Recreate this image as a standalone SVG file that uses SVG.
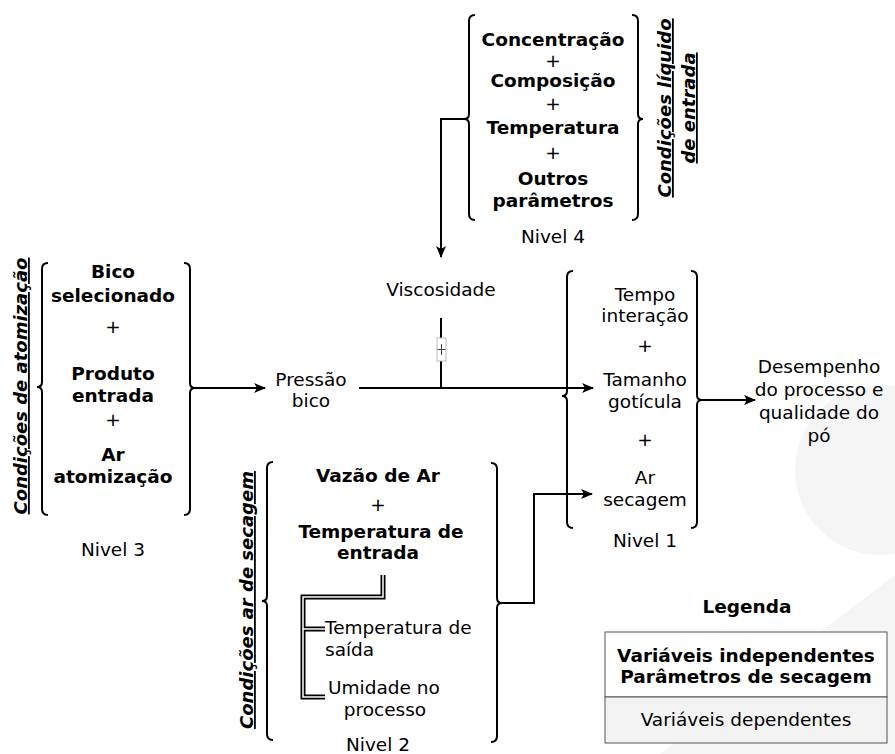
<svg xmlns="http://www.w3.org/2000/svg" width="895" height="754" viewBox="0 0 895 754">
<style>
text{font-family:"DejaVu Sans",Verdana,sans-serif;font-size:18.5px;fill:#000;text-anchor:middle}
.b{font-weight:bold}
.rl{font-weight:bold;font-style:italic;text-decoration:underline;font-size:18px}
.br{fill:none;stroke:#000;stroke-width:2}
.ln{fill:none;stroke:#000;stroke-width:2}
.s{text-anchor:start}
</style>
<defs>
<marker id="ah" markerWidth="12" markerHeight="10" refX="11" refY="5" orient="auto" markerUnits="userSpaceOnUse">
<path d="M0,0 L12,5 L0,10 L3,5 Z" fill="#000"/>
</marker>
</defs>
<rect width="895" height="754" fill="#fff"/>
<g id="watermark" fill="#f5f5f5">
<circle cx="880" cy="470" r="85"/>
<path d="M660,754 L895,575 L895,754 Z"/>
</g>
<g id="nivel4">
<path class="br" d="M475,15 Q469,15 469,21 V114 Q469,119 464,119 Q469,119 469,124 V214 Q469,220 475,220"/>
<path class="br" d="M632,15 Q638,15 638,21 V114 Q638,119 643,119 Q638,119 638,124 V214 Q638,220 632,220"/>
<text class="b" x="553" y="46">Concentração</text>
<text x="553" y="67">+</text>
<text class="b" x="553" y="87">Composição</text>
<text x="553" y="110">+</text>
<text class="b" x="553" y="134">Temperatura</text>
<text x="553" y="159">+</text>
<text class="b" x="553" y="185">Outros</text>
<text class="b" x="553" y="207">parâmetros</text>
<text x="553" y="243">Nivel 4</text>
<text class="rl" transform="translate(671,108) rotate(-90)">Condições líquido</text>
<text class="rl" transform="translate(695,108) rotate(-90)">de entrada</text>
</g>
<g id="nivel3">
<path class="br" d="M48,263 Q42,263 42,269 V382 Q42,387 37,387 Q42,387 42,392 V509 Q42,515 48,515"/>
<path class="br" d="M184,263 Q190,263 190,269 V383 Q190,388 195,388 Q190,388 190,393 V509 Q190,515 184,515"/>
<text class="b" x="113" y="278">Bico</text>
<text class="b" x="113" y="302">selecionado</text>
<text x="113" y="333">+</text>
<text class="b" x="113" y="380">Produto</text>
<text class="b" x="113" y="402">entrada</text>
<text x="113" y="426">+</text>
<text class="b" x="113" y="461">Ar</text>
<text class="b" x="113" y="483">atomização</text>
<text x="113" y="556">Nivel 3</text>
<text class="rl" transform="translate(27,386) rotate(-90)">Condições de atomização</text>
</g>
<g id="viscosidade">
<text x="441" y="296">Viscosidade</text>
</g>
<g id="pressao">
<text x="311" y="386">Pressão</text>
<text x="311" y="407">bico</text>
</g>
<g id="nivel1">
<path class="br" d="M573,271 Q567,271 567,277 V391 Q567,396 562,396 Q567,396 567,401 V522 Q567,528 573,528"/>
<path class="br" d="M691,271 Q697,271 697,277 V395 Q697,400 702,400 Q697,400 697,405 V522 Q697,528 691,528"/>
<text x="645" y="301">Tempo</text>
<text x="645" y="322">interação</text>
<text x="645" y="352">+</text>
<text x="645" y="386">Tamanho</text>
<text x="645" y="408">gotícula</text>
<text x="645" y="446">+</text>
<text x="645" y="484">Ar</text>
<text x="645" y="506">secagem</text>
<text x="645" y="547">Nivel 1</text>
</g>
<g id="desempenho">
<text x="819" y="373">Desempenho</text>
<text x="819" y="396">do processo e</text>
<text x="819" y="419">qualidade do</text>
<text x="819" y="442">pó</text>
</g>
<g id="nivel2">
<path class="br" d="M273,462 Q267,462 267,468 V596 Q267,601 262,601 Q267,601 267,606 V734 Q267,740 273,740"/>
<path class="br" d="M491,463 Q497,463 497,469 V598 Q497,603 502,603 Q497,603 497,608 V736 Q497,742 491,742"/>
<text class="b" x="378" y="482">Vazão de Ar</text>
<text x="378" y="511">+</text>
<text class="b" x="381" y="538">Temperatura de</text>
<text class="b" x="378" y="559">entrada</text>
<path d="M383,575 V597 H303 V697 H325 M303,629 H325" fill="none" stroke="#000" stroke-width="5"/>
<path d="M383,575 V597 H303 V697 H325 M303,629 H325" fill="none" stroke="#fff" stroke-width="1.5"/>
<text class="s" x="325" y="634">Temperatura de</text>
<text class="s" x="325" y="656">saída</text>
<text class="s" x="328" y="694">Umidade no</text>
<text x="385" y="716">processo</text>
<text x="378" y="751">Nivel 2</text>
<text class="rl" transform="translate(253,600) rotate(-90)">Condições ar de secagem</text>
</g>
<g id="legenda">
<text class="b" x="747" y="613">Legenda</text>
<rect x="605" y="632" width="282" height="65" fill="#fff" stroke="#555" stroke-width="1"/>
<rect x="605" y="697" width="282" height="46" fill="#f3f3f3" stroke="#555" stroke-width="1"/>
<text class="b" x="746" y="662">Variáveis independentes</text>
<text class="b" x="746" y="683">Parâmetros de secagem</text>
<text x="746" y="726">Variáveis dependentes</text>
</g>
<g id="connectors">
<path class="ln" d="M464,119 H441 V257" marker-end="url(#ah)"/>
<path class="ln" d="M195,388 H265" marker-end="url(#ah)"/>
<path class="ln" d="M359,388 H593" marker-end="url(#ah)"/>
<path class="ln" d="M441,318 V388"/>
<rect x="437" y="338" width="9" height="23" fill="#fff" stroke="#bbb" stroke-width="1"/>
<path d="M437.5,349.5 H445.5 M441.5,344 V355" stroke="#444" stroke-width="1"/>
<path class="ln" d="M502,603 H534 V494 H592" marker-end="url(#ah)"/>
<path class="ln" d="M702,400 H755" marker-end="url(#ah)"/>
</g>
</svg>
